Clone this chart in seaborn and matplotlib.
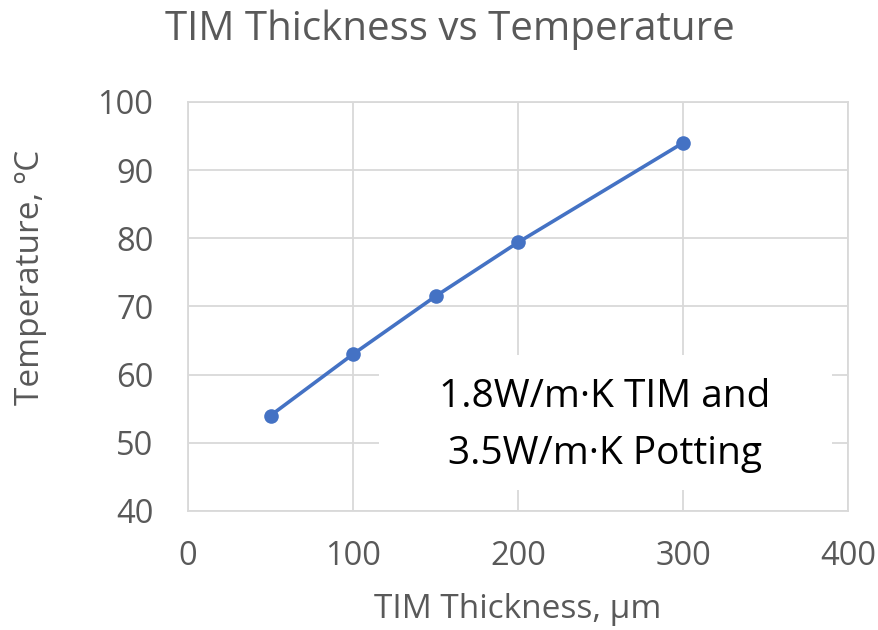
import matplotlib
matplotlib.use("Agg")
import matplotlib.pyplot as plt
from matplotlib.patches import Rectangle
import seaborn as sns
import pandas as pd

thickness_um = [50, 100, 150, 200, 300]
temperature_c = [54.0, 63.0, 71.5, 79.4, 94.0]
x_ticks = [0, 100, 200, 300, 400]
y_ticks = [40, 50, 60, 70, 80, 90, 100]

sns.set_theme(style="white")
plt.rcParams["font.family"] = ["Open Sans", "DejaVu Sans"]

df = pd.DataFrame({"thickness": thickness_um, "temperature": temperature_c})

fig = plt.figure(figsize=(8.79, 6.30), dpi=100)
ax = fig.add_axes([0.2139, 0.1889, 0.7508, 0.6492])

sns.lineplot(data=df, x="thickness", y="temperature", ax=ax,
             color="#4472C4", linewidth=2.6, marker="o", markersize=10.5,
             markeredgewidth=0, zorder=3)

ax.set_xlim(0, 400)
ax.set_ylim(40, 100)
ax.set_xticks(x_ticks)
ax.set_yticks(y_ticks)
ax.grid(True, color="#D9D9D9", linewidth=1.3)
for s in ax.spines.values():
    s.set_color("#D9D9D9")
    s.set_linewidth(1.3)
ax.tick_params(axis="both", length=0, labelsize=23.5, labelcolor="#595959")
ax.tick_params(axis="y", pad=25)
ax.tick_params(axis="x", pad=21)

ax.set_xlabel("TIM Thickness, µm", fontsize=24, color="#595959")
ax.set_ylabel("Temperature, ºC", fontsize=24, color="#595959")
ax.xaxis.label.set_va("center")
ax.yaxis.label.set_va("center")
ax.xaxis.set_label_coords(0.5, -0.24)
ax.yaxis.set_label_coords(-0.238, 0.572)

fig.text(0.512, 0.952, "TIM Thickness vs Temperature", ha="center", va="center",
         fontsize=29, color="#595959")

# white text box behind the annotation
ax.add_patch(Rectangle((0.289, 0.051), 0.687, 0.33, transform=ax.transAxes,
                       facecolor="white", edgecolor="none", zorder=2.5))
ax.text(0.632, 0.208, "1.8W/m·K TIM and\n3.5W/m·K Potting", transform=ax.transAxes,
        ha="center", va="center", fontsize=28, color="black", linespacing=1.65,
        zorder=4)

fig.savefig("out.png", dpi=100)
